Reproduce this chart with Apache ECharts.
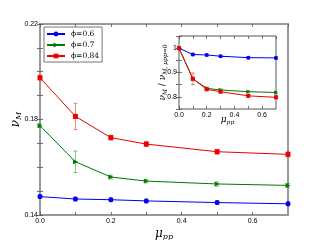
<!DOCTYPE html>
<html><head><meta charset="utf-8">
<script src="https://cdn.jsdelivr.net/npm/echarts@6/dist/echarts.min.js"></script>
<style>html,body{margin:0;padding:0;background:#fff}#c{width:320px;height:240px}</style>
</head><body><div id="c"></div>
<script>
// ---- data ----
var mu = [0.0, 0.1, 0.2, 0.3, 0.5, 0.7];
var seriesNames = ['ϕ=0.6', 'ϕ=0.7', 'ϕ=0.84'];
// main plot: nu_M
var nuBlue  = [0.1477, 0.1467, 0.1464, 0.1459, 0.1452, 0.1447];
var nuGreen = [0.1774, 0.1623, 0.1559, 0.1542, 0.1530, 0.1524];
var nuRed   = [0.1975, 0.1813, 0.1724, 0.1697, 0.1665, 0.1654];
var errBlue  = [0.0008, 0.0008, 0.0008, 0.0008, 0.0008, 0.0008];
var errGreen = [0.0008, 0.0045, 0.0008, 0.0008, 0.0009, 0.0008];
var errRed   = [0.0010, 0.0055, 0.0010, 0.0010, 0.0010, 0.0010];
// inset: normalised nu_M
var rBlue  = [1.0, 0.974, 0.972, 0.967, 0.961, 0.960];
var rGreen = [1.0, 0.874, 0.835, 0.828, 0.821, 0.818];
var rRed   = [1.0, 0.874, 0.831, 0.821, 0.804, 0.798];
var rErrBlue  = [0.004, 0.005, 0.005, 0.004, 0.005, 0.005];
var rErrGreen = [0.004, 0.005, 0.005, 0.005, 0.005, 0.005];
var rErrRed   = [0.004, 0.024, 0.005, 0.005, 0.004, 0.005];
// ticks
var mainYTicks = [0.14, 0.18, 0.22];
var insetYTicks = [0.8, 0.9, 1.0];

var colors = ['#0000ee', '#007a00', '#ee0000'];
var symbols = ['circle', 'triangle', 'rect'];
var symRot = [0, -90, 0];

function pairs(xs, ys) { return xs.map(function (x, i) { return [x, ys[i]]; }); }
function triples(xs, ys, es) { return xs.map(function (x, i) { return [x, ys[i], es[i]]; }); }

function errSeries(data, color, xi, yi, z) {
  return {
    type: 'custom', xAxisIndex: xi, yAxisIndex: yi, z: z, silent: true,
    renderItem: function (params, api) {
      var x = api.value(0), y = api.value(1), e = api.value(2);
      var p1 = api.coord([x, y + e]), p2 = api.coord([x, y - e]);
      var w = 2;
      var st = { stroke: color, lineWidth: 0.8, opacity: 0.6 };
      return { type: 'group', children: [
        { type: 'line', shape: { x1: p1[0], y1: p1[1], x2: p2[0], y2: p2[1] }, style: st },
        { type: 'line', shape: { x1: p1[0] - w, y1: p1[1], x2: p1[0] + w, y2: p1[1] }, style: st },
        { type: 'line', shape: { x1: p2[0] - w, y1: p2[1], x2: p2[0] + w, y2: p2[1] }, style: st }
      ]};
    },
    data: data
  };
}
function lineSeries(name, data, idx, xi, yi, z, size) {
  return {
    type: 'line', name: name, xAxisIndex: xi, yAxisIndex: yi, z: z,
    data: data, symbol: symbols[idx], symbolSize: size, symbolRotate: symRot[idx],
    lineStyle: { color: colors[idx], width: 1 },
    itemStyle: { color: colors[idx] },
    animation: false
  };
}

var tickFont = { fontFamily: 'Liberation Sans', fontSize: 7, color: '#000' };
var frameMain = '#999999';
var frameInset = '#555555';

function xFmt(v) {
  var r = Math.round(v * 10);
  if (r % 2 === 0 && r <= 6) return (r / 10).toFixed(1);
  return '';
}
function mainYFmt(v) {
  for (var i = 0; i < mainYTicks.length; i++) if (Math.abs(v - mainYTicks[i]) < 1e-6) return mainYTicks[i].toFixed(2);
  return '';
}
function insetYFmt(v) {
  for (var i = 0; i < insetYTicks.length; i++) if (Math.abs(v - insetYTicks[i]) < 1e-6) return insetYTicks[i] === 1 ? '1' : insetYTicks[i].toFixed(1);
  return '';
}

var nameRich = {
  i: { fontFamily: 'DejaVu Serif', fontStyle: 'italic', fontSize: 12, color: '#000' },
  s: { fontFamily: 'DejaVu Serif', fontStyle: 'italic', fontSize: 8, color: '#000', padding: [6, 0, 0, 0] }
};
var nameRichSmall = {
  i: { fontFamily: 'DejaVu Serif', fontStyle: 'italic', fontSize: 9, color: '#000' },
  s: { fontFamily: 'DejaVu Serif', fontStyle: 'italic', fontSize: 6, color: '#000', padding: [5, 0, 0, 0] },
  t: { fontFamily: 'DejaVu Serif', fontSize: 9, color: '#000' }
};

function mkX(gi, pos, showLabels, z, opts) {
  var a = {
    type: 'value', gridIndex: gi, position: pos, min: 0, max: 0.7, interval: 0.1, z: z,
    axisLine: { show: false },
    axisTick: { show: true, inside: true, length: 3, lineStyle: { color: '#555', width: 0.8 } },
    axisLabel: Object.assign({ show: showLabels, formatter: xFmt, margin: 3, showMaxLabel: false }, tickFont),
    splitLine: { show: false },
    nameMoveOverlap: false
  };
  return Object.assign(a, opts || {});
}
function mkY(gi, pos, min, max, interval, fmt, showLabels, z, opts) {
  var a = {
    type: 'value', gridIndex: gi, position: pos, min: min, max: max, interval: interval, z: z,
    axisLine: { show: false },
    axisTick: { show: true, inside: true, length: 3, lineStyle: { color: '#555', width: 0.8 } },
    axisLabel: Object.assign({ show: showLabels, formatter: fmt, margin: 2 }, tickFont),
    splitLine: { show: false },
    nameMoveOverlap: false
  };
  return Object.assign(a, opts || {});
}

var option = {
  animation: false,
  backgroundColor: '#fff',
  grid: [
    { left: 40, right: 32, top: 24, bottom: 25, containLabel: false, outerBoundsMode: 'none', show: true, borderColor: frameMain, borderWidth: 2, backgroundColor: 'transparent', z: 0 },
    { left: 179, right: 44, top: 36, bottom: 131, containLabel: false, outerBoundsMode: 'none', show: true, borderColor: frameInset, borderWidth: 1, backgroundColor: '#fff', z: 5 }
  ],
  legend: {
    left: 44, top: 27, orient: 'vertical', z: 10,
    data: seriesNames,
    backgroundColor: '#fff', borderColor: '#777', borderWidth: 1, borderRadius: 0,
    padding: [3, 3, 2, 2], itemGap: 3, itemWidth: 18, itemHeight: 6,
    textStyle: { fontFamily: 'DejaVu Serif', fontSize: 7.5, color: '#000', padding: [0, 0, 0, 1] }
  },
  xAxis: [
    mkX(0, 'bottom', true, 1, { name: '{i|μ}{s|pp}', nameLocation: 'middle', nameGap: 12, nameTextStyle: { rich: nameRich } }),
    mkX(0, 'top', false, 1),
    mkX(1, 'bottom', true, 6, { name: '{i|μ}{s|pp}', nameLocation: 'middle', nameGap: 5, nameTextStyle: { rich: nameRichSmall } }),
    mkX(1, 'top', false, 6)
  ],
  yAxis: [
    mkY(0, 'left', 0.14, 0.22, 0.01, mainYFmt, true, 1, { name: '{i|ν}{s|M}', nameLocation: 'middle', nameGap: 17, nameRotate: 90, nameTextStyle: { rich: nameRich } }),
    mkY(0, 'right', 0.14, 0.22, 0.01, mainYFmt, false, 1),
    mkY(1, 'left', 0.75, 1.05, 0.05, insetYFmt, true, 6, { name: '{i|ν}{s|M}{t| / }{i|ν}{s|M, μpp=0}', nameLocation: 'middle', nameGap: 11, nameRotate: 90, nameTextStyle: { rich: nameRichSmall } }),
    mkY(1, 'right', 0.75, 1.05, 0.05, insetYFmt, false, 6)
  ],
  series: [
    errSeries(triples(mu, nuBlue, errBlue), colors[0], 0, 0, 2),
    errSeries(triples(mu, nuGreen, errGreen), colors[1], 0, 0, 2),
    errSeries(triples(mu, nuRed, errRed), colors[2], 0, 0, 2),
    lineSeries(seriesNames[0], pairs(mu, nuBlue), 0, 0, 0, 3, 5),
    lineSeries(seriesNames[1], pairs(mu, nuGreen), 1, 0, 0, 3, 5),
    lineSeries(seriesNames[2], pairs(mu, nuRed), 2, 0, 0, 3, 5),
    errSeries(triples(mu, rBlue, rErrBlue), colors[0], 2, 2, 7),
    errSeries(triples(mu, rGreen, rErrGreen), colors[1], 2, 2, 7),
    errSeries(triples(mu, rRed, rErrRed), colors[2], 2, 2, 7),
    lineSeries(seriesNames[0], pairs(mu, rBlue), 0, 2, 2, 8, 4),
    lineSeries(seriesNames[1], pairs(mu, rGreen), 1, 2, 2, 8, 4),
    lineSeries(seriesNames[2], pairs(mu, rRed), 2, 2, 2, 8, 4)
  ]
};
var chart = echarts.init(document.getElementById('c'), null, { renderer: 'canvas' });
chart.setOption(option);
</script>
</body></html>
